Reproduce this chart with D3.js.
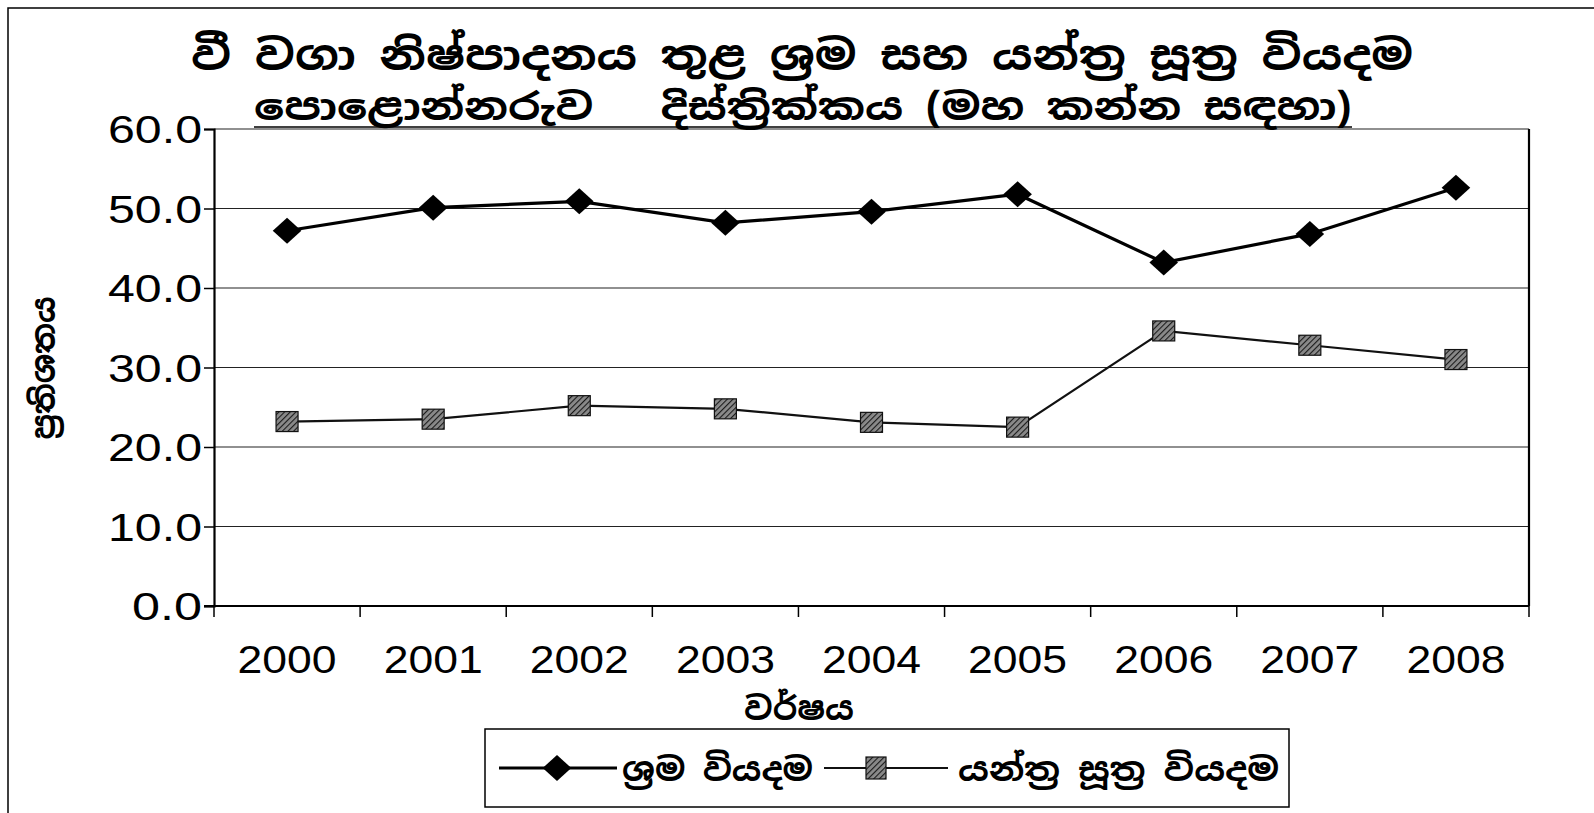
<!DOCTYPE html>
<html>
<head>
<meta charset="utf-8">
<script src="https://d3js.org/d3.v7.min.js"></script>
<style>
  html, body { margin: 0; padding: 0; background: #fff; overflow: hidden; }
  .si { font-family: "Noto Sans Sinhala", "Noto Serif Sinhala", "Iskoola Pota", "Noto Sans", sans-serif; font-weight: bold; white-space: pre; }
  .num { font-family: "Liberation Sans", Arial, sans-serif; }
</style>
</head>
<body>
<div id="chart"></div>
<script>
// chart data
var years = ["2000", "2001", "2002", "2003", "2004", "2005", "2006", "2007", "2008"];
var labourCost = [47.2, 50.1, 50.9, 48.2, 49.6, 51.8, 43.2, 46.8, 52.6];
var machineCost = [23.2, 23.5, 25.2, 24.8, 23.1, 22.5, 34.6, 32.8, 31.0];
var yTicks = [0, 10, 20, 30, 40, 50, 60];
var seriesNames = ["ශ්‍රම වියදම", "යන්ත්‍ර සූත්‍ර වියදම"];
var titleLines = ["වී වගා නිෂ්පාදනය තුළ ශ්‍රම සහ යන්ත්‍ර සූත්‍ර වියදම",
                  "පොළොන්නරුව   දිස්ත්‍රික්කය (මහ කන්න සඳහා)"];
var yLabel = "ප්‍රතිශතය";
var xLabel = "වර්ෂය";

var width = 1594, height = 813;
var plotLeft = 214, plotRight = 1529, plotTop = 129, plotBottom = 606;

var svg = d3.select("#chart").append("svg")
    .attr("width", width).attr("height", height);

var defs = svg.append("defs");
var hatch = defs.append("pattern")
    .attr("id", "hatch").attr("patternUnits", "userSpaceOnUse")
    .attr("width", 4).attr("height", 4)
    .attr("patternTransform", "rotate(45)");
hatch.append("rect").attr("width", 4).attr("height", 4).attr("fill", "#8a8a8a");
hatch.append("line").attr("x1", 0).attr("y1", 0).attr("x2", 0).attr("y2", 4)
    .attr("stroke", "#1a1a1a").attr("stroke-width", 2.2);

// outer frame (only top and left are in view)
svg.append("path")
    .attr("d", "M8," + height + "V8H" + width)
    .attr("fill", "none").attr("stroke", "#000").attr("stroke-width", 1.5);

var x = d3.scaleBand().domain(years).range([plotLeft, plotRight]);
var y = d3.scaleLinear().domain([0, 60]).range([plotBottom, plotTop]);
var cx = function (d, i) { return x(years[i]) + x.bandwidth() / 2; };

// gridlines
svg.append("g")
    .selectAll("line")
    .data(yTicks.slice(1))
    .enter().append("line")
    .attr("x1", plotLeft).attr("x2", plotRight)
    .attr("y1", function (d) { return y(d); })
    .attr("y2", function (d) { return y(d); })
    .attr("stroke", "#222").attr("stroke-width", 1.2);

// y axis
var yAxis = svg.append("g")
    .attr("transform", "translate(" + plotLeft + ",0)")
    .call(d3.axisLeft(y).tickValues(yTicks).tickSize(10).tickPadding(0).tickFormat(d3.format(".1f")));
yAxis.select(".domain").attr("stroke-width", 2.2);
yAxis.selectAll(".tick line").attr("stroke-width", 1.5);
yAxis.selectAll(".tick text")
    .attr("class", "num")
    .attr("x", -12)
    .attr("dy", "0.36em")
    .attr("font-size", 38)
    .attr("fill", "#000")
    .attr("textLength", function (d) { return d === 0 ? 70 : 94; })
    .attr("lengthAdjust", "spacingAndGlyphs");

// right border
svg.append("line")
    .attr("x1", plotRight).attr("x2", plotRight).attr("y1", plotTop).attr("y2", plotBottom)
    .attr("stroke", "#000").attr("stroke-width", 2.2);

// x axis line and boundary ticks
svg.append("line")
    .attr("x1", plotLeft - 10).attr("x2", plotRight).attr("y1", plotBottom).attr("y2", plotBottom)
    .attr("stroke", "#000").attr("stroke-width", 2.2);
svg.append("g")
    .selectAll("line")
    .data(years.concat(["end"]))
    .enter().append("line")
    .attr("x1", function (d, i) { return plotLeft + i * x.step(); })
    .attr("x2", function (d, i) { return plotLeft + i * x.step(); })
    .attr("y1", plotBottom).attr("y2", plotBottom + 11)
    .attr("stroke", "#000").attr("stroke-width", 1.5);

var xAxis = svg.append("g")
    .attr("transform", "translate(0," + plotBottom + ")")
    .call(d3.axisBottom(x).tickSize(0).tickPadding(0));
xAxis.select(".domain").remove();
xAxis.selectAll(".tick text")
    .attr("class", "num")
    .attr("y", 67)
    .attr("dy", 0)
    .attr("font-size", 39)
    .attr("fill", "#000")
    .attr("textLength", 99)
    .attr("lengthAdjust", "spacingAndGlyphs");

// series lines
var line = d3.line()
    .x(cx)
    .y(function (d) { return y(d); });

svg.append("path").datum(machineCost)
    .attr("d", line).attr("fill", "none")
    .attr("stroke", "#111").attr("stroke-width", 2.2);
svg.append("path").datum(labourCost)
    .attr("d", line).attr("fill", "none")
    .attr("stroke", "#000").attr("stroke-width", 3.2);

var diamond = function (s) { return "M0," + (-s) + "L" + (s * 1.1) + ",0L0," + s + "L" + (-s * 1.1) + ",0Z"; };

svg.append("g").selectAll("path")
    .data(labourCost).enter().append("path")
    .attr("transform", function (d, i) { return "translate(" + cx(d, i) + "," + y(d) + ")"; })
    .attr("d", diamond(13))
    .attr("fill", "#000");

svg.append("g").selectAll("rect")
    .data(machineCost).enter().append("rect")
    .attr("x", function (d, i) { return cx(d, i) - 11; })
    .attr("y", function (d) { return y(d) - 10; })
    .attr("width", 22).attr("height", 20)
    .attr("fill", "url(#hatch)")
    .attr("stroke", "#111").attr("stroke-width", 1.2);

// titles
svg.append("text").attr("class", "si")
    .attr("x", 802).attr("y", 70)
    .attr("text-anchor", "middle").attr("font-size", 41)
    .attr("textLength", 1222).attr("lengthAdjust", "spacingAndGlyphs")
    .text(titleLines[0]);
svg.append("text").attr("class", "si")
    .attr("x", 803).attr("y", 120)
    .attr("text-anchor", "middle").attr("font-size", 37)
    .attr("textLength", 1098).attr("lengthAdjust", "spacingAndGlyphs")
    .text(titleLines[1]);
svg.append("line")
    .attr("x1", 254).attr("x2", 1352).attr("y1", 127).attr("y2", 127)
    .attr("stroke", "#000").attr("stroke-width", 1.5);

// axis titles
svg.append("text").attr("class", "si")
    .attr("transform", "translate(55,368)rotate(-90)")
    .attr("text-anchor", "middle").attr("font-size", 32)
    .attr("textLength", 143).attr("lengthAdjust", "spacingAndGlyphs")
    .text(yLabel);
svg.append("text").attr("class", "si")
    .attr("x", 799).attr("y", 720)
    .attr("text-anchor", "middle").attr("font-size", 32)
    .attr("textLength", 110).attr("lengthAdjust", "spacingAndGlyphs")
    .text(xLabel);

// legend
var legend = svg.append("g");
legend.append("rect")
    .attr("x", 485).attr("y", 729).attr("width", 804).attr("height", 78)
    .attr("fill", "#fff").attr("stroke", "#000").attr("stroke-width", 1.5);

legend.append("line")
    .attr("x1", 499).attr("x2", 617).attr("y1", 768).attr("y2", 768)
    .attr("stroke", "#000").attr("stroke-width", 3.2);
legend.append("path")
    .attr("transform", "translate(557,768)")
    .attr("d", diamond(13)).attr("fill", "#000");
legend.append("text").attr("class", "si")
    .attr("x", 622).attr("y", 781).attr("font-size", 32)
    .attr("textLength", 191).attr("lengthAdjust", "spacingAndGlyphs")
    .text(seriesNames[0]);

legend.append("line")
    .attr("x1", 824).attr("x2", 948).attr("y1", 768).attr("y2", 768)
    .attr("stroke", "#111").attr("stroke-width", 2.2);
legend.append("rect")
    .attr("x", 876 - 10).attr("y", 768 - 11).attr("width", 20).attr("height", 22)
    .attr("fill", "url(#hatch)").attr("stroke", "#111").attr("stroke-width", 1.2);
legend.append("text").attr("class", "si")
    .attr("x", 958).attr("y", 781).attr("font-size", 32)
    .attr("textLength", 321).attr("lengthAdjust", "spacingAndGlyphs")
    .text(seriesNames[1]);
</script>
</body>
</html>
